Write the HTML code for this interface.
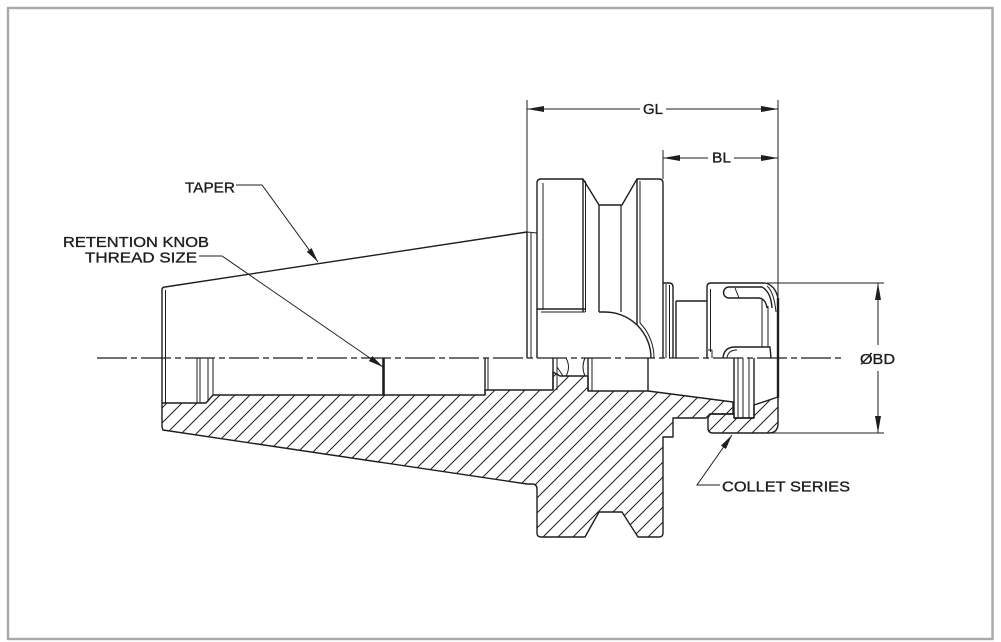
<!DOCTYPE html>
<html>
<head>
<meta charset="utf-8">
<style>
html,body{margin:0;padding:0;background:#fff;}
body{width:1001px;height:642px;overflow:hidden;}
svg{display:block;}
text{font-family:"Liberation Sans",sans-serif;font-size:15px;fill:#1e1e1e;stroke:#1e1e1e;stroke-width:0.35;}
</style>
</head>
<body>
<svg width="1001" height="642" viewBox="0 0 1001 642" xmlns="http://www.w3.org/2000/svg">
<defs>
<pattern id="h" patternUnits="userSpaceOnUse" width="15" height="15">
<path d="M-2,17 L17,-2 M-4,4 L4,-4 M11,19 L19,11" stroke="#1e1e1e" stroke-width="1"/>
</pattern>
</defs>
<rect x="0" y="0" width="1001" height="642" fill="#fff"/>
<rect x="8" y="8" width="984.5" height="631" fill="none" stroke="#a8a8a8" stroke-width="2.4"/>

<!-- hatched section regions -->
<g stroke="#1e1e1e" stroke-width="1.4" fill="url(#h)" stroke-linejoin="round">
<path d="M162,403 L206,403 L213,395 L485,395 L485,390 L553,390 L553,372 L560,376 L588,376 L588,391 L648,391 L733,402 L733,414 L710,414 L706,418 L673,418 L673,437 L663,437 L663,533 Q663,537 659,537 L638,537 L622,512 L599,512 L585,537 L541,537 Q537,537 537,533 L537,489 Q537,484 532,484 L527,484 L163,430 L162,427 Z"/>
<path d="M710,414 L734,414 L734,418 L754,418 L754,405 L778,397 L778,425 Q777,433 769,433 L713,433 Q708,433 708,428 L708,418 Z"/>
</g>

<!-- centerline -->
<line x1="97" y1="358" x2="841" y2="358" stroke="#1e1e1e" stroke-width="1.2" stroke-dasharray="30 4 6 4"/>

<g stroke="#1e1e1e" stroke-width="1.4" fill="none" stroke-linejoin="round">
<!-- taper -->
<path d="M162,403 L162,290 Q162,287 165,287 L527,232"/>
<line x1="165.5" y1="290" x2="165.5" y2="403" stroke-width="1"/>
<line x1="197" y1="358" x2="197" y2="403" stroke-width="1"/>
<line x1="200" y1="358" x2="200" y2="403" stroke-width="1"/>
<line x1="208" y1="358" x2="208" y2="402" stroke-width="1"/>
<line x1="213" y1="358" x2="213" y2="395" stroke-width="1"/>
<line x1="383.5" y1="358" x2="383.5" y2="395" stroke-width="2.6"/>
<line x1="485" y1="358" x2="485" y2="395"/>
<line x1="488" y1="358" x2="488" y2="390" stroke-width="1"/>
<!-- pocket -->
<line x1="553" y1="358" x2="553" y2="390"/>
<line x1="557" y1="358" x2="557" y2="390" stroke-width="1"/>
<path d="M557,367 L563,376" stroke-width="1"/>
<path d="M566,358 Q571,367 566,376" stroke-width="1"/>
<path d="M585,358 Q581,367 585,376" stroke-width="1"/>
<line x1="588" y1="358" x2="588" y2="391"/>
<line x1="592" y1="358" x2="592" y2="391" stroke-width="1"/>
<line x1="648" y1="358" x2="648" y2="391"/>

<!-- gauge step -->
<line x1="527" y1="232" x2="527" y2="358"/>
<line x1="531" y1="233" x2="531" y2="358" stroke-width="1"/>
<line x1="527" y1="232" x2="537" y2="233" stroke-width="1"/>

<!-- flange -->
<path d="M537,358 L537,183 Q537,179 541,179 L583,179 L599,205 L622,205 L637,179 L659,179 Q663,179 663,183 L663,358"/>
<line x1="543" y1="183" x2="543" y2="310" stroke-width="1"/>
<line x1="583" y1="179" x2="583" y2="312"/>
<line x1="585.5" y1="181" x2="585.5" y2="312" stroke-width="1"/>
<line x1="537" y1="309" x2="585" y2="309"/>
<line x1="541" y1="312" x2="585" y2="312" stroke-width="1"/>
<line x1="599" y1="205" x2="599" y2="312"/>
<line x1="621" y1="205" x2="621" y2="312" stroke-width="1.2"/>
<path d="M599,312 L605,312 A46,46 0 0 1 651,358"/>
<line x1="637" y1="179" x2="637" y2="325"/>
<line x1="640" y1="181" x2="640" y2="323" stroke-width="1"/>
<path d="M640,323 A50,50 0 0 1 654,358" stroke-width="1"/>

<!-- shoulder & neck -->
<path d="M663,283 L669,283 Q673,283 673,287 L673,358"/>
<line x1="666" y1="284" x2="666" y2="358" stroke-width="1"/>
<line x1="669.5" y1="285" x2="669.5" y2="358" stroke-width="1"/>
<line x1="676" y1="301" x2="676" y2="358"/>
<line x1="676" y1="301" x2="707" y2="301"/>

<!-- nut -->
<path d="M707,358 L707,287 Q707,283 711,283 L765,283 Q775,285 778,298"/>
<line x1="710.5" y1="289" x2="710.5" y2="352" stroke-width="1"/>
<path d="M708,350 L712,350 L712,358" stroke-width="1"/>
<line x1="778" y1="298" x2="778" y2="398" stroke-width="2.4"/>
<path d="M767,286 Q774,292 776,312" stroke-width="1"/>

<!-- collet -->
<path d="M772,308 Q771,292 762,287 L729,287 A5.5,5.5 0 0 0 729,298 L759,298 Q766,299 767,308"/>
<path d="M735,288 L739,298" stroke-width="1"/>
<line x1="762" y1="300" x2="762" y2="347" stroke-width="1"/>
<line x1="768" y1="306" x2="768" y2="347" stroke-width="1"/>
<path d="M723,358 Q724,347 735,347 L770,347 L771,358"/>
<path d="M727,358 Q728,350 737,350" stroke-width="1"/>
<line x1="734" y1="358" x2="734" y2="418"/>
<line x1="738" y1="358" x2="738" y2="418" stroke-width="1"/>
<line x1="743" y1="358" x2="743" y2="418" stroke-width="1"/>
<line x1="749" y1="358" x2="749" y2="418" stroke-width="1"/>
<line x1="754" y1="358" x2="754" y2="418"/>
<line x1="734" y1="418" x2="754" y2="418"/>
</g>

<!-- dimension & extension lines -->
<g stroke="#1e1e1e" stroke-width="1" fill="none">
<line x1="527" y1="100" x2="527" y2="232"/>
<line x1="778" y1="100" x2="778" y2="300"/>
<line x1="663" y1="150" x2="663" y2="179"/>
<line x1="527" y1="109" x2="640" y2="109"/>
<line x1="666" y1="109" x2="778" y2="109"/>
<line x1="663" y1="158" x2="708" y2="158"/>
<line x1="734" y1="158" x2="778" y2="158"/>
<line x1="767" y1="283" x2="884" y2="283"/>
<line x1="770" y1="433" x2="884" y2="433"/>
<line x1="878" y1="283" x2="878" y2="345"/>
<line x1="878" y1="371" x2="878" y2="433"/>
<!-- leaders -->
<polyline points="236,185 262,185 318,262"/>
<polyline points="199,256 222,256 383,367"/>
<polyline points="720,485 697,485 732,435"/>
</g>

<!-- arrowheads -->
<g fill="#1e1e1e" stroke="none">
<polygon points="527,109 544,106 544,112"/>
<polygon points="778,109 761,106 761,112"/>
<polygon points="663,158 680,155 680,161"/>
<polygon points="778,158 761,155 761,161"/>
<polygon points="878,283 875,300 881,300"/>
<polygon points="878,433 875,416 881,416"/>
<polygon points="318,262 306.8,251.7 311.6,248.1"/>
<polygon points="383,367 368.9,361 372.3,356"/>
<polygon points="732,435 725.9,449 720.9,445.6"/>
</g>

<!-- labels -->
<text x="643" y="114" textLength="20" lengthAdjust="spacingAndGlyphs">GL</text>
<text x="712" y="162.5" textLength="19" lengthAdjust="spacingAndGlyphs">BL</text>
<text x="185" y="192.5" textLength="50" lengthAdjust="spacingAndGlyphs">TAPER</text>
<text x="63" y="247" textLength="146" lengthAdjust="spacingAndGlyphs">RETENTION KNOB</text>
<text x="85" y="262.5" textLength="112" lengthAdjust="spacingAndGlyphs">THREAD SIZE</text>
<text x="722" y="491.5" textLength="128" lengthAdjust="spacingAndGlyphs">COLLET SERIES</text>
<text x="860" y="364" textLength="35" lengthAdjust="spacingAndGlyphs">ØBD</text>
</svg>
</body>
</html>
